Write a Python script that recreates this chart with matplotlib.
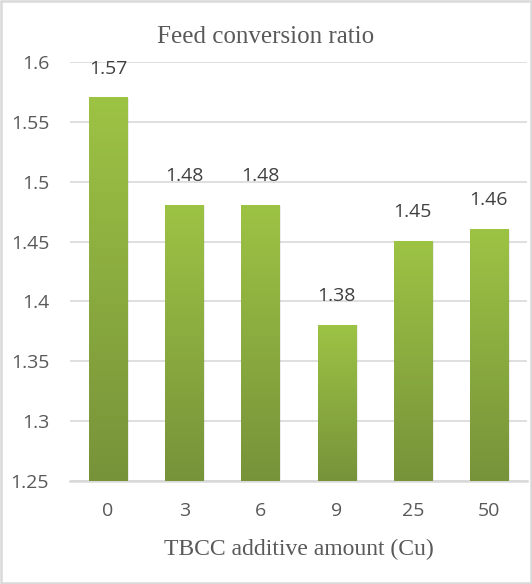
import numpy as np
import matplotlib
matplotlib.use("Agg")
import matplotlib.pyplot as plt
from matplotlib.colors import LinearSegmentedColormap
from matplotlib.patches import Rectangle

# data
categories = ["0", "3", "6", "9", "25", "50"]
fcr = [1.57, 1.48, 1.48, 1.38, 1.45, 1.46]
yticks = [1.25, 1.3, 1.35, 1.4, 1.45, 1.5, 1.55, 1.6]

text_col = "#595959"
grid_col = "#D9D9D9"
green = LinearSegmentedColormap.from_list("g", ["#77933A", "#9DC344"])

fig = plt.figure(figsize=(5.32, 5.84), dpi=100)
ax = fig.add_axes([70 / 532, 1 - 481 / 584, 457 / 532, 419 / 584])

x = np.arange(len(categories))
ybase = yticks[0]
bars = ax.bar(x, fcr, width=0.5, color="none", zorder=3)
grad = np.linspace(0, 1, 256).reshape(-1, 1)
for b in bars:
    x0, w, top = b.get_x(), b.get_width(), b.get_height()
    # faint shadow on the right
    ax.add_patch(Rectangle((x0 + 0.025, ybase), w, top - ybase, color="#000000",
                           alpha=0.07, zorder=2, lw=0))
    ax.imshow(grad, cmap=green, origin="lower", aspect="auto",
              extent=(x0, x0 + w, ybase, top), zorder=3)

for xi, v in zip(x, fcr):
    ax.text(xi, v + 0.017, f"{v:.2f}", ha="center", va="bottom", fontsize=14,
            color="#404040", family="Open Sans", zorder=4)

ax.set_xlim(-0.5, len(categories) - 0.5)
ax.set_ylim(yticks[0], yticks[-1])
ax.set_yticks(yticks)
ax.set_yticklabels([f"{t:g}" for t in yticks], family="Open Sans", fontsize=14,
                   color=text_col)
ax.set_xticks(x)
ax.set_xticklabels(categories, family="Open Sans", fontsize=14, color=text_col)
ax.tick_params(axis="x", length=0, pad=15)
ax.tick_params(axis="y", length=0, pad=15)
ax.grid(axis="y", color=grid_col, lw=1.2, zorder=0)
for s in ["top", "right", "left"]:
    ax.spines[s].set_visible(False)
ax.spines["bottom"].set_color(grid_col)
ax.spines["bottom"].set_linewidth(1.8)

fig.text(0.5, 1 - 37 / 584, "Feed conversion ratio", ha="center", va="center",
         family="Liberation Serif", fontsize=18, color=text_col)
ax.text(0.5, 1 - 549 / 584, "TBCC additive amount (Cu)", ha="center", va="center",
        transform=matplotlib.transforms.blended_transform_factory(ax.transAxes,
                                                                  fig.transFigure),
        family="Liberation Serif", fontsize=17, color=text_col)

fig.patches.append(Rectangle((0.002, 0.002), 0.996, 0.996, transform=fig.transFigure,
                             fill=False, edgecolor=grid_col, lw=1.8))

fig.savefig("out.png", dpi=100)
